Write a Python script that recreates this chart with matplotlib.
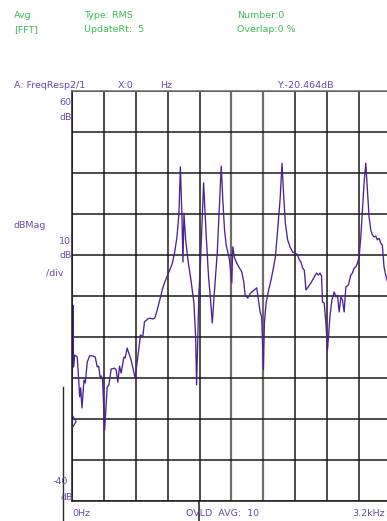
import matplotlib
matplotlib.use('Agg')
from matplotlib import pyplot as plt
from matplotlib.lines import Line2D
from matplotlib.path import Path

# frequency response trace (Hz, dB)
freq_hz = [
    0, 10, 15, 27, 53, 77, 87, 100, 120, 133, 153, 177, 210, 233, 253, 267, 283, 293, 307, 327,
    353, 370, 393, 427, 443, 460, 477, 493, 520, 533, 553, 593, 633, 660, 687, 710, 727, 747, 760,
    780, 807, 830, 847, 873, 913, 947, 980, 1007, 1030, 1053, 1073, 1087, 1103, 1113, 1123, 1140,
    1163, 1197, 1223, 1240, 1250, 1273, 1290, 1307, 1320, 1347, 1370, 1390, 1407, 1430, 1457, 1480,
    1497, 1513, 1530, 1547, 1580, 1603, 1613, 1630, 1653, 1680, 1703, 1723, 1737, 1763, 1790, 1830,
    1853, 1870, 1887, 1903, 1920, 1930, 1947, 1973, 1997, 2020, 2040, 2063, 2087, 2107, 2120, 2140,
    2163, 2187, 2213, 2240, 2263, 2280, 2297, 2313, 2330, 2347, 2363, 2397, 2430, 2453, 2473, 2487,
    2503, 2513, 2530, 2547, 2563, 2587, 2607, 2630, 2647, 2663, 2680, 2697, 2713, 2730, 2747, 2773,
    2797, 2813, 2830, 2847, 2863, 2880, 2897, 2913, 2930, 2947, 2963, 2980, 2997, 3013, 3030, 3047,
    3063, 3080, 3097, 3113, 3130, 3147, 3170,
]
mag_db = [
    -20.5, 7.8, -7.3, -4.4, -4.9, -14.6, -12.4, -17.3, -10.5, -11.2, -6.1, -4.6, -4.6, -4.9, -7.3,
    -7.1, -10.0, -9.5, -10.5, -22.7, -12.2, -11.7, -7.8, -7.6, -8.0, -11.0, -7.1, -8.8, -4.9, -5.1,
    -2.7, -5.6, -10.0, -4.9, 0.5, 0.0, 3.7, 4.1, 4.4, 4.6, 4.4, 4.6, 5.9, 8.3, 12.2, 14.4, 16.3,
    18.0, 20.7, 24.4, 30.2, 41.5, 29.3, 18.3, 30.2, 23.7, 18.8, 13.2, 8.3, 0.0, -11.7, 10.7, 18.8,
    29.3, 37.6, 24.4, 14.6, 9.0, 3.4, 11.5, 20.5, 32.7, 41.7, 33.4, 26.1, 22.4, 18.8, 13.2, 22.0,
    19.3, 18.0, 16.8, 15.9, 13.4, 10.2, 9.5, 10.7, 11.5, 12.0, 9.0, 6.1, 4.9, -8.0, 3.4, 8.3, 11.5,
    13.9, 16.8, 19.5, 26.1, 33.4, 42.4, 35.9, 27.8, 23.7, 22.0, 20.7, 20.5, 20.0, 18.8, 18.3, 16.8,
    16.3, 11.5, 12.0, 13.2, 14.6, 15.6, 15.1, 15.6, 14.9, 8.5, 8.3, 3.4, -3.2, 4.9, 9.0, 11.0, 9.8,
    10.2, 6.1, 9.8, 9.0, 6.1, 12.2, 12.7, 15.1, 15.6, 16.8, 17.1, 18.0, 19.5, 24.4, 31.0, 37.6,
    42.4, 35.9, 29.3, 26.1, 24.9, 24.4, 24.6, 23.7, 24.1, 22.9, 22.4, 17.1, 15.1, 13.0,
]

x_ticks = [0, 320, 640, 960, 1280, 1600, 1920, 2240, 2560, 2880, 3200]
y_ticks = [-40, -30, -20, -10, 0, 10, 20, 30, 40, 50, 60]
cursor = (0, -20.464)

GREEN = '#3dbb55'
PURPLE = '#6a4aa8'
TRACE = '#4a2392'

W, H = 387, 521
fig = plt.figure(figsize=(W / 100, H / 100), dpi=100)
fig.patch.set_facecolor('white')

# plot area runs a little past the right edge of the screen, as in the capture
ax = fig.add_axes([72 / W, 20 / H, 319 / W, 410 / H])
ax.set_xlim(0, 3200)
ax.set_ylim(-40, 60)
ax.set_xticks(x_ticks)
ax.set_yticks(y_ticks)
ax.tick_params(length=0, labelbottom=False, labelleft=False)
ax.grid(True, color='#1a1a1a', linewidth=1.1)
for gl, xv in zip(ax.get_xgridlines(), x_ticks):
    if xv in (1600, 1920):
        gl.set_color('#6e6e6e')
        gl.set_linewidth(1.6)
for sp in ax.spines.values():
    sp.set_color('#1a1a1a')
    sp.set_linewidth(1.1)
ax.spines['top'].set_color('#6a6a6a')

ax.plot(freq_hz, mag_db, color=TRACE, linewidth=0.95, clip_on=True)

# open chevron cursor marker sitting on the left edge
chevron = Path([(0, 1), (0.6, 0), (0, -1)], [Path.MOVETO, Path.LINETO, Path.LINETO])
ax.plot(*cursor, marker=chevron, markersize=8.6, markerfacecolor='none',
        markeredgecolor=TRACE, markeredgewidth=0.9, clip_on=False, zorder=5)


def label(x, y, s, color, ha='left'):
    fig.text(x / W, 1 - y / H, s, color=color, fontsize=6.8, ha=ha, va='center',
             family='DejaVu Sans')


# header
label(14, 15, 'Avg', GREEN)
label(84, 15, 'Type: RMS', GREEN)
label(237, 15, 'Number:0', GREEN)
label(14, 30, '[FFT]', GREEN)
label(84, 30, 'UpdateRt:  5', GREEN)
label(237, 30, 'Overlap:0 %', GREEN)

label(14, 86, 'A: FreqResp2/1', PURPLE)
label(118, 86, 'X:0', PURPLE)
label(160, 86, 'Hz', PURPLE)
label(277, 86, 'Y:-20.464dB', PURPLE)

# y scale annotations
label(71, 103, '60', PURPLE, ha='right')
label(72, 117, 'dB', PURPLE, ha='right')
label(14, 226, 'dBMag', PURPLE)
label(71, 242, '10', PURPLE, ha='right')
label(72, 256, 'dB', PURPLE, ha='right')
label(46, 273, '/div', PURPLE)
label(68, 482, '-40', PURPLE, ha='right')
label(73, 497, 'dB', PURPLE, ha='right')

# footer
label(72, 514, '0Hz', PURPLE)
label(186, 514, 'OVLD  AVG:  10', PURPLE)
label(385, 514, '3.2kHz', PURPLE, ha='right')

# stray screen lines below the plot
fig.add_artist(Line2D([63 / W, 63 / W], [1 - 387 / H, 0], color='#2a2a2a', linewidth=1.0))
fig.add_artist(Line2D([199.3 / W, 199.3 / W], [20 / H, 0], color='#1a1a1a', linewidth=1.1))

fig.savefig('out.png', dpi=100)
